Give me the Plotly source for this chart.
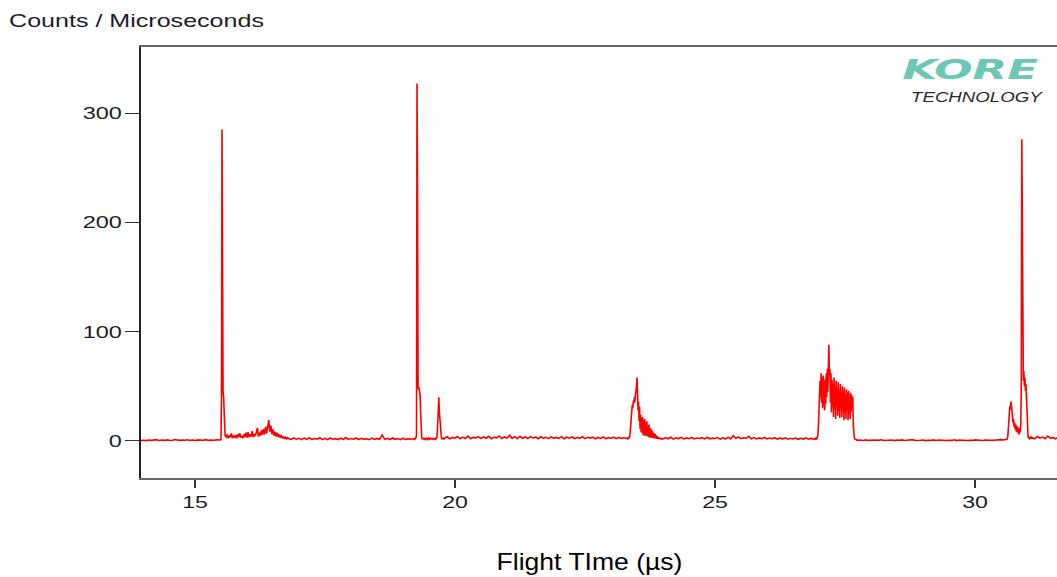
import numpy as np
import plotly.graph_objects as go

# Time-of-flight spectrum, stored as contiguous acquisition windows.
# Each window: first bin (µs), bin width (µs), counts per bin.
win_a_start, win_a_step = 13.96, 0.05
win_a_counts = [0.4, 0.7, 0.3, 0.9, 0.5, 0.6, 1.2, 0.4, 0.8, 0.5, 1.0, 0.6, 0.4, 1.3, 0.7, 0.5,
                0.9, 0.6, 1.1, 0.5, 0.8, 0.4, 1.0, 0.6, 0.7, 1.2, 0.5, 0.9, 0.6, 1.0, 0.8]

win_b_start, win_b_step = 15.47, 0.01
win_b_counts = [1.0, 1.4, 0.9, 1.8, 40, 285, 47, 45, 41, 24, 9, 4, 5.5]

win_c_start, win_c_step = 15.60, 0.02
win_c_counts = [3, 6, 2.5, 4.5, 3.5, 7, 2.5, 5, 3, 5.5, 2.5, 6, 3.5, 7, 3, 4.5, 2.5, 6, 3.5, 7.5,
                3, 8, 3.5, 6, 4, 9, 3.5, 6.5, 4.5, 8, 12, 4, 7.5, 5, 10, 5.5, 11, 6, 13, 7,
                16, 19, 8.5, 14, 6, 10.5, 5, 8.5, 4, 7.5, 3.5, 6, 3, 5.5, 2.5, 4, 2, 3.5, 2, 3]

win_d_start, win_d_step = 16.80, 0.05
win_d_counts = [2.2, 1.4, 2.8, 1.6, 2.4, 1.2, 2.6, 1.5, 3.0, 1.3, 2.2, 1.7, 2.9, 1.4, 2.3, 1.2,
                2.7, 1.6, 2.1, 1.3, 2.5, 1.5, 3.1, 1.4, 2.2, 1.6, 2.8, 1.3, 2.4, 1.5, 2.0, 1.2,
                2.6, 1.4, 2.3, 1.6, 5.5, 1.5, 2.4, 1.3, 2.7, 1.5, 2.2, 1.2, 2.5, 1.4, 2.1, 1.6]

win_e_start, win_e_step = 19.20, 0.01
win_e_counts = [2.0, 1.5, 2.6, 1.8, 2.4, 3.0, 6, 327, 228, 50, 47, 49, 46, 41, 26, 9, 3, 1.8, 2.6, 1.5,
                2.2, 1.6, 2.8, 1.4, 2.0, 1.7, 2.5, 1.3, 2.3, 1.8, 2.7, 1.5, 2.1, 1.6, 2.4, 1.4,
                2.6, 1.9, 2.2, 1.5, 2.0, 1.7, 2.4, 1.6, 2.0, 3, 8, 22, 30, 40, 26, 18, 9, 4,
                2.5, 2, 2.8, 1.6, 2.4, 1.8]

win_f_start, win_f_step = 19.80, 0.05
win_f_counts = [2.4, 3.8, 1.9, 3.2, 2.6, 4.1, 2.0, 3.5, 2.3, 4.4, 2.1, 3.3, 2.7, 3.9, 2.2, 3.6,
                2.5, 4.2, 2.0, 3.4, 2.8, 4.6, 2.3, 3.7, 2.6, 5.2, 2.4, 3.9, 2.1, 4.3, 2.5, 3.6,
                2.2, 4.0, 2.7, 3.5, 2.0, 3.8, 2.4, 3.3, 2.1, 3.7, 2.6, 3.2, 2.3, 3.9, 2.0, 3.4,
                2.5, 3.6, 2.2, 3.1, 2.4, 3.8, 2.1, 3.3, 2.6, 3.5, 2.0, 3.2, 2.3, 3.6, 2.1, 3.0,
                2.5, 3.4, 2.2, 3.1, 2.4, 2.9]

win_g_start, win_g_step = 23.30, 0.01
win_g_counts = [2, 2.5, 2, 3, 2.5, 3, 4, 7, 14, 22,
                28, 33, 30, 37, 34, 40, 36, 42, 45, 50,
                58, 45, 28, 36, 18, 31, 11, 24, 8, 21,
                7, 22, 5, 19, 6, 20, 4.5, 17, 5, 18,
                4, 14, 4, 15, 3, 12, 3.5, 11, 3, 9.5,
                2.5, 8, 3, 7, 2, 6.5, 2.5, 5, 2, 4.5,
                2, 3.5, 1.8, 3, 1.5, 3, 1.5, 2.5, 1.5, 2.5]

win_h_start, win_h_step = 24.00, 0.05
win_h_counts = [1.8, 3.1, 2.0, 3.4, 1.7, 2.9, 2.2, 3.3, 1.9, 2.8, 2.1, 3.2, 1.8, 2.7, 2.3, 3.0,
                1.9, 3.4, 2.0, 2.6, 2.2, 3.1, 1.7, 2.9, 2.0, 3.3, 1.8, 4.8, 2.4, 3.6, 2.1, 3.0,
                2.3, 4.2, 2.0, 3.1, 1.9, 2.8, 2.1, 3.2, 1.8, 2.7, 2.0, 3.0, 1.7, 2.6, 1.9, 2.9,
                1.6, 2.5, 1.8, 2.7, 1.5, 2.4, 1.7, 2.8, 1.6, 2.3]

win_i_start, win_i_step = 26.90, 0.01
win_i_counts = [1.5, 2.0, 1.4, 2.3, 1.8, 2.6, 2.2, 3.5, 6, 15,
                30, 45, 55, 40, 62, 35, 58, 30, 60, 32,
                55, 28, 57, 34, 62, 40, 66, 45, 72, 88,
                60, 66, 35, 62, 26, 56, 31, 52, 22, 58,
                29, 50, 20, 55, 33, 47, 23, 54, 27, 45,
                21, 52, 30, 44, 22, 50, 28, 46, 19, 49,
                26, 42, 20, 47, 29, 44, 19, 46, 25, 41,
                20, 44, 27, 42, 30, 40, 14, 6, 3, 1.8,
                1.2, 0.8, 1.1, 0.6, 0.9, 0.5, 0.8, 0.6, 0.9, 0.5]

win_j_start, win_j_step = 27.80, 0.05
win_j_counts = [0.8, 0.4, 1.0, 0.5, 0.7, 0.3, 0.9, 0.6, 1.1, 0.4, 0.7, 0.5, 0.9, 0.3, 0.8, 0.6,
                1.0, 0.4, 0.7, 0.5, 1.2, 0.4, 0.8, 0.6, 0.9, 0.3, 0.7, 0.5, 1.0, 0.4, 0.8, 0.6,
                0.9, 0.4, 0.7, 0.5, 1.1, 0.3, 0.8, 0.6, 0.9, 0.4, 0.7, 0.5, 1.0, 0.6, 0.8, 0.4,
                0.9, 0.5, 0.7, 0.6, 1.0, 0.8, 1.2, 0.9]

win_k_start, win_k_step = 30.60, 0.01
win_k_counts = [1, 1.5, 2, 4, 10, 18, 26, 32, 29, 36,
                33, 27, 21, 17, 20, 13, 17, 11, 15, 9,
                14, 8, 13, 7, 12, 6, 11, 8, 16, 45,
                276, 150, 60, 55, 64, 50, 58, 46, 52, 38,
                22, 9, 4, 2.5, 3.5, 2, 3, 2.5, 3.5, 2]

win_l_start, win_l_step = 31.10, 0.05
win_l_counts = [3, 2, 4, 2.5, 3.5, 2, 4.5, 2.5, 3, 2, 3.5]

windows = [
    (win_a_start, win_a_step, win_a_counts),
    (win_b_start, win_b_step, win_b_counts),
    (win_c_start, win_c_step, win_c_counts),
    (win_d_start, win_d_step, win_d_counts),
    (win_e_start, win_e_step, win_e_counts),
    (win_f_start, win_f_step, win_f_counts),
    (win_g_start, win_g_step, win_g_counts),
    (win_h_start, win_h_step, win_h_counts),
    (win_i_start, win_i_step, win_i_counts),
    (win_j_start, win_j_step, win_j_counts),
    (win_k_start, win_k_step, win_k_counts),
    (win_l_start, win_l_step, win_l_counts),
]

x_tick_vals = [15, 20, 25, 30]
y_tick_vals = [0, 100, 200, 300]
x_range = [13.962, 31.577]
y_range = [-33.9, 360.5]

y_label = "Counts / Microseconds"
x_label = "Flight TIme (µs)"
logo_main = "KORE"
logo_sub = "TECHNOLOGY"

time_us = np.concatenate([s + w * np.arange(len(c)) for s, w, c in windows])
counts = np.concatenate([np.asarray(c, dtype=float) for _, _, c in windows])

fig = go.Figure()
fig.add_trace(go.Scatter(
    x=time_us, y=counts, mode="lines",
    line=dict(color="#ff0000", width=1.6),
    hoverinfo="skip", showlegend=False,
))

tick_font = dict(family="Liberation Sans, Arial, sans-serif", size=17, color="#1c1c28")

fig.update_layout(
    width=1057, height=577,
    margin=dict(l=141, r=0, t=47, b=99),
    paper_bgcolor="white", plot_bgcolor="white",
    showlegend=False,
    xaxis=dict(
        range=x_range, tickmode="array", tickvals=x_tick_vals,
        showgrid=False, zeroline=False,
        showline=True, linecolor="#666", linewidth=1.5, mirror=True,
        ticks="outside", ticklen=8, tickwidth=1.5, tickcolor="#333",
        tickfont=tick_font,
    ),
    yaxis=dict(
        range=y_range, tickmode="array", tickvals=y_tick_vals,
        showgrid=False, zeroline=False,
        showline=True, linecolor="#222", linewidth=1.5, mirror=False,
        ticks="outside", ticklen=14, tickwidth=1.2, tickcolor="#333",
        tickfont=tick_font, ticklabelstandoff=0,
    ),
    annotations=[
        dict(text=y_label, xref="paper", yref="paper", x=-0.0049, y=1.061,
             xanchor="center", yanchor="middle", showarrow=False,
             font=dict(family="Liberation Sans, Arial, sans-serif", size=18, color="#1c1c28")),
        dict(text=x_label, xref="paper", yref="paper", x=0.4899, y=-0.1955,
             xanchor="center", yanchor="middle", showarrow=False,
             font=dict(family="Liberation Sans, Arial, sans-serif", size=23, color="#000000")),
        dict(text=logo_main, xref="paper", yref="paper", x=0.906, y=0.9455,
             xanchor="center", yanchor="middle", showarrow=False,
             font=dict(family="DejaVu Sans, sans-serif", size=26, color="#6cc8b5",
                       weight="bold", style="italic")),
        dict(text=logo_sub, xref="paper", yref="paper", x=0.9126, y=0.8852,
             xanchor="center", yanchor="middle", showarrow=False,
             font=dict(family="Liberation Sans, Arial, sans-serif", size=15, color="#2a2a2a",
                       style="italic")),
    ],
)

# Widen the text horizontally (the typeface used here is set wide).
post_js = """
var gd = document.getElementById('{plot_id}');
function widen(el, k) {
  var b = el.getBBox();
  var a = el.getAttribute('text-anchor') || 'start';
  var ax = a === 'middle' ? b.x + b.width / 2 : (a === 'end' ? b.x + b.width : b.x);
  var prev = el.getAttribute('transform') || '';
  el.setAttribute('transform', prev + ' translate(' + ax + ',0) scale(' + k + ',1) translate(' + (-ax) + ',0)');
}
function widenAll(sel, k) {
  gd.querySelectorAll(sel).forEach(function (el) { widen(el, k); });
}
function widenTo(sel, w) {
  gd.querySelectorAll(sel).forEach(function (el) {
    var b = el.getBBox();
    if (b.width > 0) { widen(el, w / b.width); }
  });
}
try {
  widenAll('.xtick text', 1.36);
  widenAll('.ytick text', 1.38);
  widenTo('g.annotation[data-index="0"] text.annotation-text', 255);
  widenTo('g.annotation[data-index="1"] text.annotation-text', 186);
  widenTo('g.annotation[data-index="2"] text.annotation-text', 136);
  widenTo('g.annotation[data-index="3"] text.annotation-text', 132);
} catch (e) {}
"""

fig.write_html("out.html", config={"displayModeBar": False}, post_script=post_js)
